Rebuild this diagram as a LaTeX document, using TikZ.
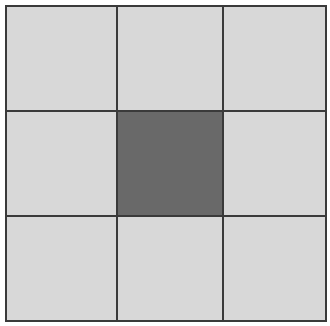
\documentclass[tikz,border=0pt]{standalone}
\definecolor{cellgray}{HTML}{D8D8D8}
\definecolor{darkcell}{HTML}{696969}
\definecolor{linegray}{HTML}{3A3A3A}
\begin{document}
\begin{tikzpicture}[x=1pt,y=-1pt,
  gridline/.style={draw=linegray,line width=2.2pt}]
\useasboundingbox (0,0) rectangle (330,325);
\fill[white] (0,0) rectangle (330,325);
\fill[cellgray] (6,6) rectangle (326,321);
\fill[darkcell] (117,111) rectangle (223,216);
\draw[gridline] (6,6) rectangle (326,321);
\draw[gridline] (117,6) -- (117,321);
\draw[gridline] (223,6) -- (223,321);
\draw[gridline] (6,111) -- (326,111);
\draw[gridline] (6,216) -- (326,216);
\end{tikzpicture}
\end{document}
